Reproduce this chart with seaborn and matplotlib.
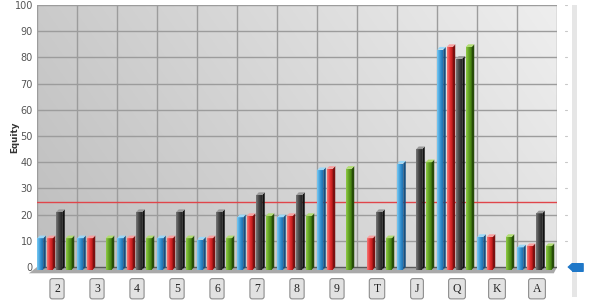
import numpy as np
import pandas as pd
import seaborn as sns
import matplotlib
matplotlib.use("Agg")
import matplotlib.pyplot as plt
from matplotlib.patches import Polygon, Rectangle
from matplotlib.colors import LinearSegmentedColormap

# ---------------- data ----------------
categories = ['2', '3', '4', '5', '6', '7', '8', '9', 'T', 'J', 'Q', 'K', 'A']
series_names = ['Blue', 'Red', 'Black', 'Green']
blue_vals = [12, 12, 12, 12, 11.5, 20, 20, 38, 0, 40.5, 84, 12.5, 8.5]
red_vals = [12, 12, 12, 12, 12, 20.5, 20.5, 38.5, 12, 0, 85, 12.5, 9]
black_vals = [22, 0, 22, 22, 22, 28.5, 28.5, 0, 22, 46, 80.5, 0, 21.5]
green_vals = [12, 12, 12, 12, 12, 20.5, 20.5, 38.5, 12, 41, 85, 12.5, 9]
threshold = 25
y_ticks = [0, 10, 20, 30, 40, 50, 60, 70, 80, 90, 100]

df = pd.DataFrame({
    'Card': categories * 4,
    'Series': sum([[s] * len(categories) for s in series_names], []),
    'Equity': blue_vals + red_vals + black_vals + green_vals,
})

# colours: (front light, front mid, front dark, side, top)
styles = {
    'Blue': ('#7ccaf2', '#3a9ad8', '#1f70b0', '#164f80', '#9ad8f8'),
    'Red': ('#f57a7a', '#e43030', '#b81818', '#7a1010', '#f8a0a0'),
    'Black': ('#7a7a7a', '#444444', '#262626', '#101010', '#9a9a9a'),
    'Green': ('#92cc48', '#5e9e20', '#3f7a10', '#264c08', '#b0dc70'),
}
palette = {k: v[1] for k, v in styles.items()}

# ---------------- figure ----------------
sns.set_theme(style='white')
plt.rcParams['font.family'] = ['DejaVu Sans']
fig = plt.figure(figsize=(5.94, 3.0), dpi=100)
fig.patch.set_facecolor('white')

ax_left, ax_w = 37 / 594, 520 / 594
ax_bot, ax_h = (300 - 273.3) / 300, 268.3 / 300
ax = fig.add_axes([ax_left, ax_bot, ax_w, ax_h])
ax.set_facecolor('none')

sns.barplot(data=df, x='Card', y='Equity', hue='Series', order=categories,
            hue_order=series_names, palette=palette, width=0.95, gap=0.37,
            legend=False, errorbar=None, ax=ax, linewidth=0, saturation=1)

ymin, ymax = -2.4, 100
xmin, xmax = -0.5, len(categories) - 0.5

# 3D depth in data units
ddx, ddy = 0.0625, 1.0

for cont, name in zip(ax.containers, series_names):
    light, mid, dark, side, top = styles[name]
    cmap = LinearSegmentedColormap.from_list(name, [light, mid, dark])
    for p in cont.patches:
        h = p.get_height()
        # move front face down-left (3D projection toward the viewer)
        p.set_x(p.get_x() - ddx)
        p.set_y(p.get_y() - ddy)
        p.set_zorder(3)
        if h <= 0:
            p.set_visible(False)
            continue
        x0, y0, w = p.get_x(), p.get_y(), p.get_width()
        grad = np.linspace(0, 1, 32).reshape(1, -1)
        im = ax.imshow(grad, extent=(x0, x0 + w, y0, y0 + h), cmap=cmap,
                       aspect='auto', zorder=3, interpolation='bicubic')
        im.set_clip_path(p)
        # side face
        ax.add_patch(Polygon([(x0 + w, y0), (x0 + w + ddx, y0 + ddy),
                              (x0 + w + ddx, y0 + h + ddy), (x0 + w, y0 + h)],
                             closed=True, fc=side, ec='none', zorder=3.2))
        # top face
        ax.add_patch(Polygon([(x0, y0 + h), (x0 + ddx, y0 + h + ddy),
                              (x0 + w + ddx, y0 + h + ddy), (x0 + w, y0 + h)],
                             closed=True, fc=top, ec='none', zorder=3.2))

# background gradient (back wall)
gx = np.linspace(0, 1, 200)
gy = np.linspace(0, 1, 200)
GX, GY = np.meshgrid(gx, gy)
bg = 0.745 + 0.14 * GX + 0.05 * GY
bg = np.clip(bg, 0, 1)
ax.imshow(np.dstack([bg, bg, bg]), extent=(xmin, xmax, 0, ymax), origin='lower',
          aspect='auto', zorder=0, interpolation='bilinear')

# floor
fdx = 0.2
ax.add_patch(Polygon([(xmin, 0), (xmax, 0), (xmax - 0.08, ymin), (xmin - fdx, ymin)],
                     closed=True, fc='#a9a9a9', ec='none', zorder=0.8, clip_on=False))
ax.plot([xmin, xmax], [0, 0], color='#5a5a5a', lw=1.0, zorder=0.9)

# threshold line
ax.axhline(threshold, color='#e0454a', lw=1.0, zorder=1)

ax.set_xlim(xmin, xmax)
ax.set_ylim(ymin, ymax)

# grid
ax.set_yticks(y_ticks)
for yv in y_ticks[1:]:
    ax.plot([xmin, xmax], [yv, yv], color='#9c9c9c', lw=1.0, zorder=0.5)
for xv in np.arange(-0.5, len(categories), 1.0):
    ax.plot([xv, xv], [0, ymax], color='#9c9c9c', lw=1.0, zorder=0.5)

for s in ax.spines.values():
    s.set_visible(False)

ax.tick_params(axis='y', length=0, pad=3, labelsize=7, labelcolor='#555555')
ax.tick_params(axis='x', which='both', length=0, pad=6.8)
ax.set_xticks(range(len(categories)))
ax.set_xticklabels(categories, fontfamily='Liberation Serif', fontsize=8.5, color='#222222')
for lbl in ax.get_xticklabels():
    lbl.set_bbox(dict(boxstyle='round,pad=0.35,rounding_size=0.2', fc='#e2e2e2',
                      ec='#8c8c8c', lw=0.8))
ax.set_xlabel('')
ax.set_ylabel('')
fig.text(15 / 594, 1 - 137 / 300, 'Equity', rotation=90, ha='center', va='center',
         fontsize=6.3, color='#333333', fontweight='bold')

# slider on the right
ax2 = fig.add_axes([560 / 594, ax_bot, 30 / 594, ax_h])
ax2.set_xlim(0, 1)
ax2.set_ylim(ymin, ymax)
ax2.axis('off')
ax2.add_patch(Rectangle((0.4, -0.09), 0.18, 1.09, transform=ax2.transAxes,
                        fc='#e6e6e6', ec='none', clip_on=False, zorder=0))
for yv in y_ticks[1:]:
    ax2.plot([0.17, 0.23], [yv, yv], color='#c8c8c8', lw=0.8)
marker = [(-1, 0), (-0.45, 0.5), (1, 0.5), (1, -0.5), (-0.45, -0.5)]
ax2.scatter([0.5], [0], marker=marker, s=120, color='#1f78c8', zorder=3, clip_on=False)

fig.savefig('out.png', dpi=100)
